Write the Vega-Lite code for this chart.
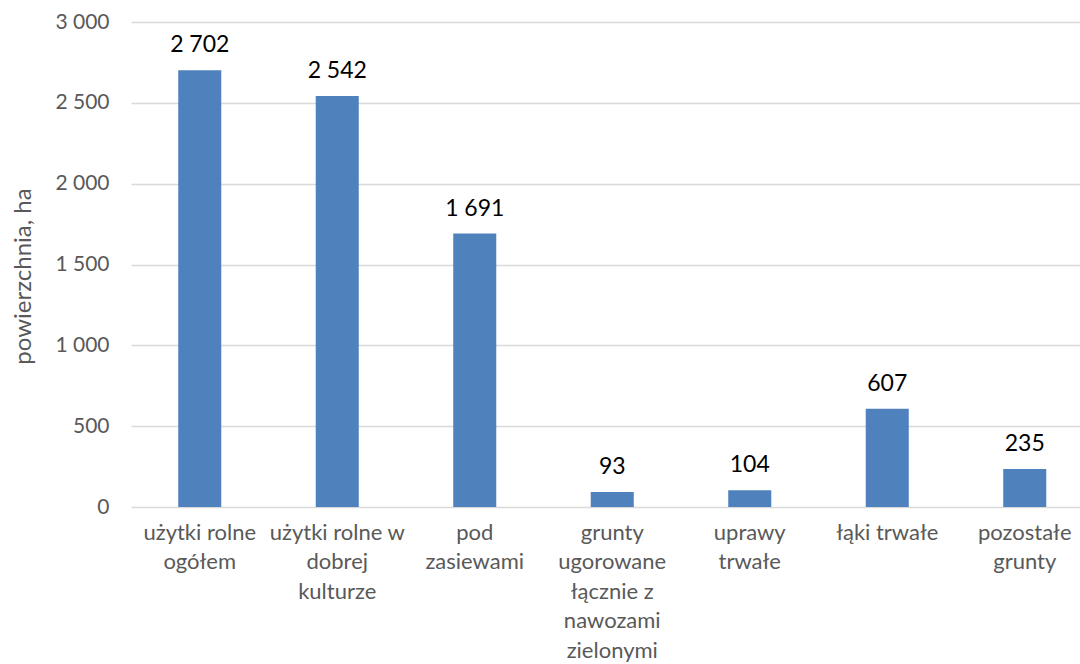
{
  "$schema": "https://vega.github.io/schema/vega-lite/v6.json",
  "autosize": {"type": "none"},
  "padding": {"left": 131, "top": 22, "right": 0, "bottom": 157},
  "width": {"step": 137.5},
  "height": 485,
  "config": {
    "locale": {"number": {"decimal": ",", "thousands": " ", "grouping": [3], "currency": ["", " zł"]}},
    "view": {"stroke": null},
    "font": "Lato"
  },
  "data": {
    "values": [
      {"kategoria": "użytki rolne|ogółem", "wartosc": 2702},
      {"kategoria": "użytki rolne w|dobrej|kulturze", "wartosc": 2542},
      {"kategoria": "pod|zasiewami", "wartosc": 1691},
      {"kategoria": "grunty|ugorowane|łącznie z|nawozami|zielonymi", "wartosc": 93},
      {"kategoria": "uprawy|trwałe", "wartosc": 104},
      {"kategoria": "łąki trwałe", "wartosc": 607},
      {"kategoria": "pozostałe|grunty", "wartosc": 235}
    ]
  },
  "encoding": {
    "x": {
      "field": "kategoria",
      "type": "nominal",
      "sort": null,
      "scale": {"paddingInner": 0.687, "paddingOuter": 0.3435},
      "axis": {
        "title": null,
        "labelAngle": 0,
        "labelExpr": "split(datum.label, '|')",
        "labelFont": "Lato",
        "labelFontSize": 22,
        "labelColor": "#595959",
        "labelLineHeight": 29.6,
        "labelBaseline": "top",
        "labelPadding": 15,
        "labelLimit": 200,
        "labelOverlap": false,
        "ticks": false,
        "domain": false
      }
    },
    "y": {
      "field": "wartosc",
      "type": "quantitative",
      "scale": {"domain": [0, 3000]},
      "axis": {
        "title": "powierzchnia, ha",
        "titleFont": "Lato",
        "titleFontSize": 24,
        "titleFontWeight": "normal",
        "titleColor": "#595959",
        "titleAngle": -90,
        "titleX": -108,
        "titleY": 254,
        "titleAlign": "center",
        "titleBaseline": "middle",
        "values": [0, 500, 1000, 1500, 2000, 2500, 3000],
        "format": ",d",
        "labelFont": "Lato",
        "labelFontSize": 21,
        "labelColor": "#595959",
        "labelPadding": 22,
        "ticks": false,
        "domain": false,
        "gridColor": "#d9d9d9",
        "gridWidth": 1.3
      }
    }
  },
  "layer": [
    {"mark": {"type": "bar", "color": "#4f81bd"}},
    {
      "mark": {"type": "text", "dy": -13, "baseline": "bottom", "fontSize": 23, "color": "#000000", "font": "Lato"},
      "encoding": {"text": {"field": "wartosc", "type": "quantitative", "format": ",d"}}
    }
  ]
}
